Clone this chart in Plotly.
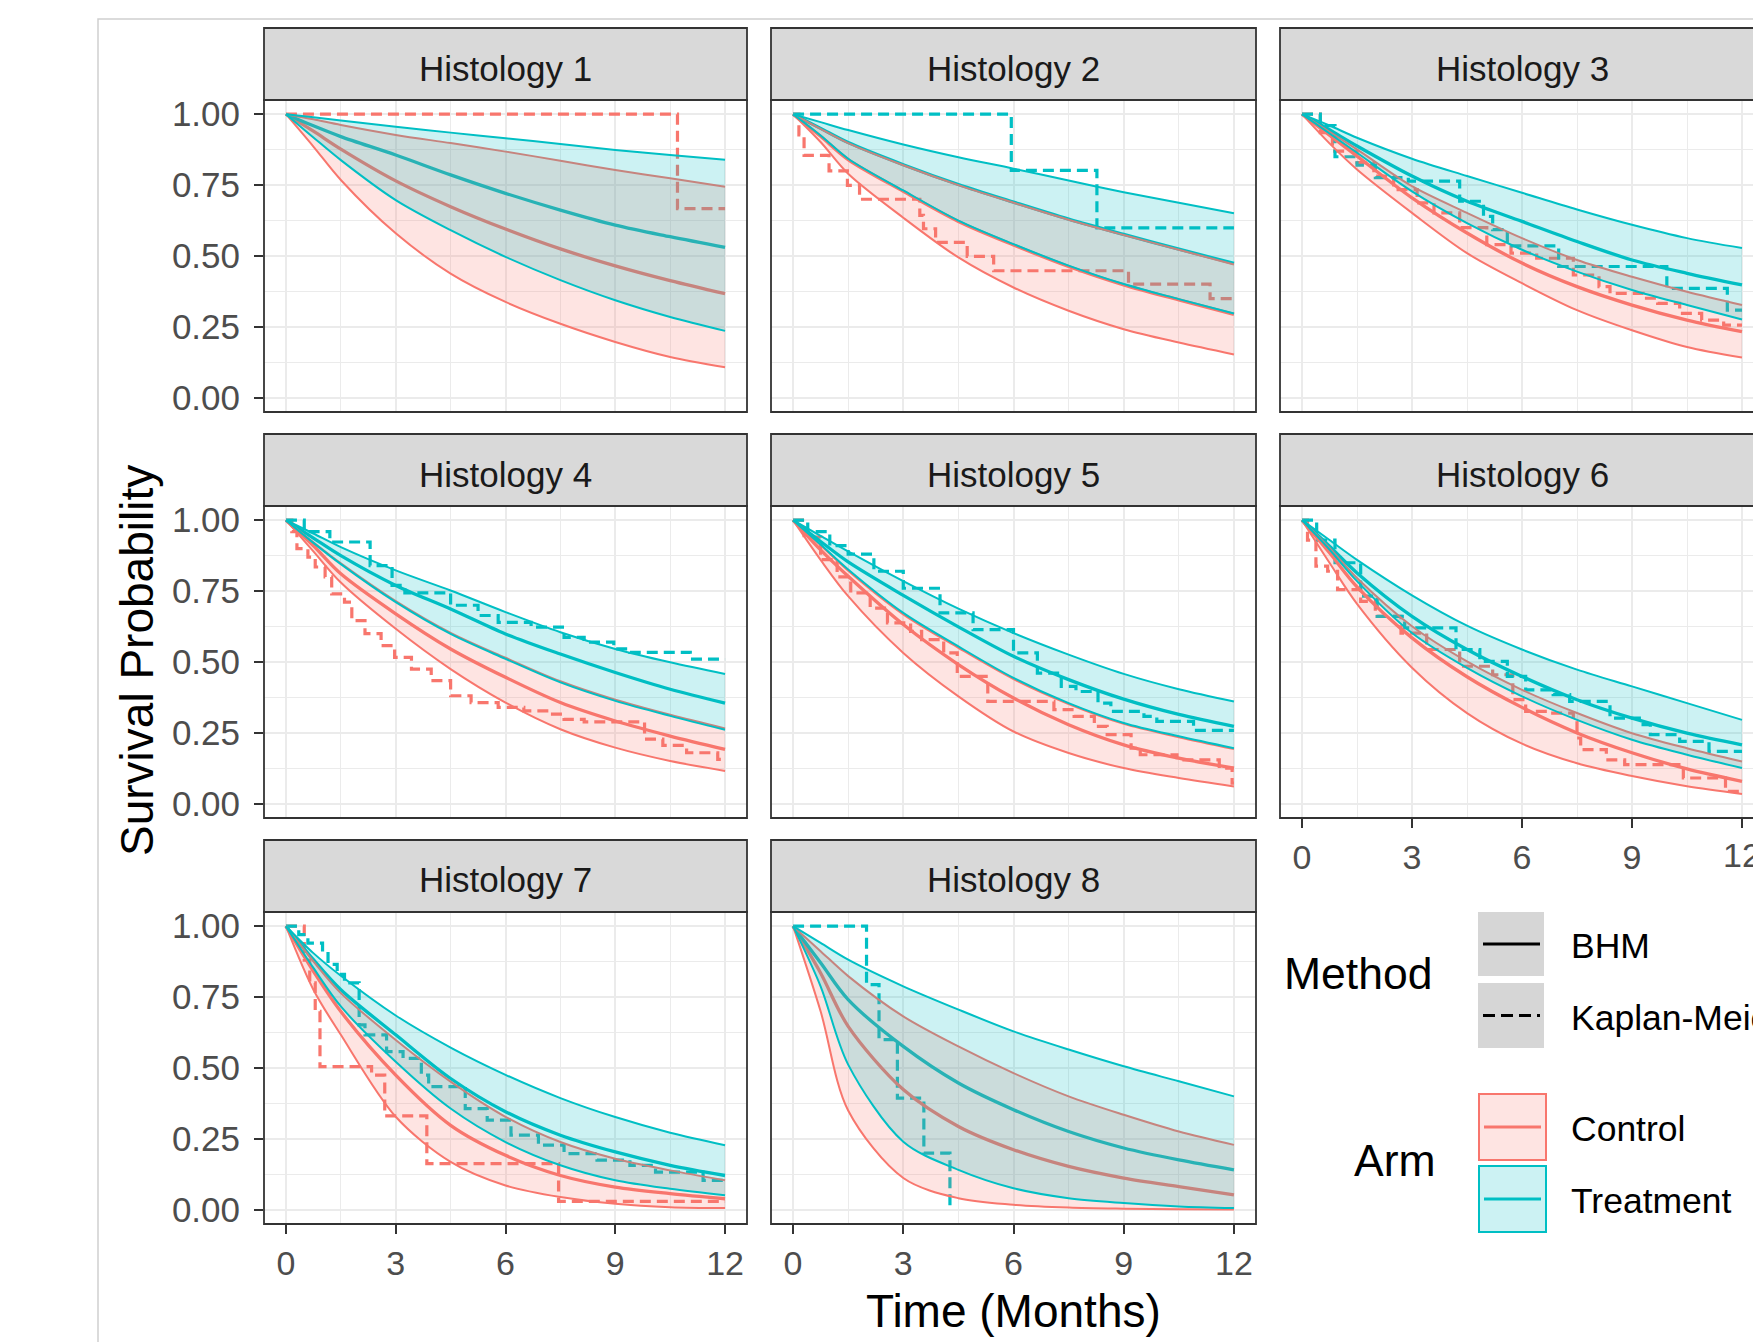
import plotly.graph_objects as go

W, H = 1753, 1342
FONT = "Liberation Sans, Arial, sans-serif"

# ---------------- data ----------------
PANELS = ["Histology 1", "Histology 2", "Histology 3", "Histology 4",
          "Histology 5", "Histology 6", "Histology 7", "Histology 8"]

T = [0, 0.75, 1.5, 3, 4.5, 6, 7.5, 9, 10.5, 12]

CTRL_LO = [
    [1, 0.886, 0.768, 0.580, 0.438, 0.338, 0.261, 0.197, 0.144, 0.108],
    [1, 0.902, 0.790, 0.635, 0.495, 0.389, 0.307, 0.242, 0.195, 0.153],
    [1, 0.897, 0.805, 0.652, 0.510, 0.404, 0.309, 0.238, 0.179, 0.142],
    [1, 0.890, 0.780, 0.617, 0.475, 0.357, 0.263, 0.198, 0.151, 0.116],
    [1, 0.860, 0.732, 0.532, 0.379, 0.255, 0.179, 0.126, 0.091, 0.061],
    [1, 0.850, 0.705, 0.480, 0.320, 0.212, 0.143, 0.098, 0.062, 0.035],
    [1, 0.776, 0.617, 0.328, 0.169, 0.086, 0.045, 0.021, 0.009, 0.006],
    [1, 0.700, 0.350, 0.112, 0.041, 0.018, 0.008, 0.004, 0.002, 0.001],
]
CTRL_MED = [
    [1, 0.940, 0.877, 0.765, 0.674, 0.595, 0.525, 0.465, 0.413, 0.367],
    [1, 0.922, 0.840, 0.728, 0.622, 0.539, 0.463, 0.398, 0.345, 0.294],
    [1, 0.926, 0.852, 0.705, 0.581, 0.475, 0.392, 0.327, 0.274, 0.233],
    [1, 0.910, 0.811, 0.670, 0.546, 0.446, 0.357, 0.292, 0.239, 0.192],
    [1, 0.895, 0.802, 0.632, 0.491, 0.373, 0.279, 0.208, 0.161, 0.126],
    [1, 0.885, 0.765, 0.585, 0.448, 0.340, 0.250, 0.180, 0.123, 0.079],
    [1, 0.841, 0.699, 0.475, 0.298, 0.192, 0.121, 0.080, 0.057, 0.039],
    [1, 0.835, 0.647, 0.424, 0.294, 0.212, 0.153, 0.112, 0.082, 0.053],
]
CTRL_HI = [
    [1, 0.982, 0.962, 0.927, 0.898, 0.868, 0.836, 0.803, 0.774, 0.744],
    [1, 0.948, 0.898, 0.820, 0.750, 0.688, 0.628, 0.574, 0.522, 0.470],
    [1, 0.938, 0.876, 0.746, 0.652, 0.563, 0.486, 0.427, 0.374, 0.327],
    [1, 0.922, 0.848, 0.715, 0.603, 0.515, 0.432, 0.367, 0.314, 0.266],
    [1, 0.912, 0.822, 0.668, 0.550, 0.440, 0.352, 0.282, 0.235, 0.193],
    [1, 0.902, 0.796, 0.626, 0.502, 0.402, 0.320, 0.249, 0.196, 0.149],
    [1, 0.876, 0.764, 0.599, 0.452, 0.328, 0.239, 0.180, 0.139, 0.104],
    [1, 0.912, 0.824, 0.682, 0.576, 0.482, 0.400, 0.335, 0.276, 0.229],
]
TRT_LO = [
    [1, 0.918, 0.838, 0.697, 0.591, 0.497, 0.415, 0.344, 0.285, 0.236],
    [1, 0.925, 0.843, 0.731, 0.625, 0.542, 0.466, 0.401, 0.348, 0.297],
    [1, 0.932, 0.864, 0.728, 0.616, 0.522, 0.445, 0.380, 0.327, 0.276],
    [1, 0.920, 0.845, 0.711, 0.599, 0.511, 0.428, 0.363, 0.310, 0.261],
    [1, 0.914, 0.826, 0.673, 0.555, 0.444, 0.355, 0.285, 0.238, 0.196],
    [1, 0.896, 0.785, 0.602, 0.479, 0.379, 0.296, 0.226, 0.173, 0.126],
    [1, 0.853, 0.717, 0.522, 0.357, 0.239, 0.157, 0.104, 0.074, 0.051],
    [1, 0.788, 0.512, 0.240, 0.141, 0.076, 0.041, 0.024, 0.012, 0.006],
]
TRT_MED = [
    [1, 0.959, 0.921, 0.856, 0.786, 0.721, 0.662, 0.609, 0.568, 0.530],
    [1, 0.950, 0.900, 0.822, 0.752, 0.690, 0.630, 0.576, 0.524, 0.474],
    [1, 0.945, 0.888, 0.782, 0.693, 0.622, 0.551, 0.486, 0.439, 0.398],
    [1, 0.937, 0.875, 0.770, 0.687, 0.599, 0.528, 0.463, 0.404, 0.355],
    [1, 0.925, 0.853, 0.735, 0.624, 0.520, 0.438, 0.369, 0.315, 0.273],
    [1, 0.908, 0.814, 0.661, 0.544, 0.449, 0.367, 0.302, 0.249, 0.208],
    [1, 0.882, 0.776, 0.617, 0.463, 0.346, 0.263, 0.204, 0.157, 0.121],
    [1, 0.871, 0.741, 0.576, 0.447, 0.353, 0.276, 0.218, 0.176, 0.141],
]
TRT_HI = [
    [1, 0.989, 0.978, 0.956, 0.935, 0.915, 0.895, 0.874, 0.856, 0.839],
    [1, 0.972, 0.944, 0.893, 0.848, 0.808, 0.766, 0.725, 0.688, 0.651],
    [1, 0.960, 0.917, 0.843, 0.782, 0.723, 0.664, 0.610, 0.563, 0.528],
    [1, 0.953, 0.905, 0.823, 0.752, 0.676, 0.605, 0.546, 0.499, 0.458],
    [1, 0.945, 0.890, 0.785, 0.688, 0.602, 0.526, 0.458, 0.404, 0.361],
    [1, 0.930, 0.860, 0.735, 0.628, 0.544, 0.473, 0.414, 0.355, 0.296],
    [1, 0.905, 0.825, 0.685, 0.572, 0.476, 0.394, 0.327, 0.272, 0.228],
    [1, 0.941, 0.882, 0.788, 0.706, 0.629, 0.565, 0.506, 0.453, 0.400],
]

# Kaplan-Meier step curves (event times and survival after each step)
KM_CTRL_T = [
    [0, 10.7],
    [0, 0.16, 0.3, 0.98, 1.48, 1.81, 3.45, 3.55, 3.88, 4.74, 5.46, 9.13, 11.35],
    [0, 0.5, 0.83, 1.5, 1.96, 2.5, 3.14, 3.6, 4.3, 5.04, 5.7, 6.4, 7.4, 8.1, 8.4, 9.3, 9.7, 10.3, 10.9, 11.5],
    [0, 0.16, 0.3, 0.6, 0.8, 1.07, 1.25, 1.6, 1.8, 2.16, 2.6, 2.97, 3.43, 3.97, 4.5, 5.06, 5.8, 6.5, 7.2, 7.6, 8.15, 9.8, 10.3, 10.95, 11.8],
    [0, 0.3, 0.75, 1.2, 1.57, 2.1, 2.57, 3.2, 3.5, 4.1, 4.47, 5.3, 7.1, 7.65, 8.2, 8.55, 9.2, 9.45, 10.45, 11.6, 11.95],
    [0, 0.15, 0.38, 0.7, 0.97, 1.6, 2.0, 2.7, 3.4, 4.3, 5.2, 5.75, 6.1, 6.7, 7.4, 7.5, 7.6, 8.3, 8.8, 10.4, 11.55],
    [0, 0.5, 0.65, 0.8, 0.93, 2.34, 2.7, 3.85, 7.45],
    [],
]
KM_CTRL_S = [
    [1, 0.667],
    [1, 0.927, 0.855, 0.80, 0.749, 0.70, 0.643, 0.596, 0.548, 0.499, 0.448, 0.401, 0.35],
    [1, 0.935, 0.87, 0.829, 0.782, 0.734, 0.687, 0.652, 0.6, 0.54, 0.51, 0.492, 0.433, 0.392, 0.368, 0.351, 0.333, 0.298, 0.274, 0.256],
    [1, 0.96, 0.90, 0.87, 0.835, 0.80, 0.74, 0.711, 0.646, 0.60, 0.558, 0.516, 0.475, 0.434, 0.381, 0.357, 0.34, 0.328, 0.316, 0.298, 0.289, 0.228, 0.206, 0.18, 0.157],
    [1, 0.94, 0.861, 0.80, 0.744, 0.69, 0.638, 0.608, 0.579, 0.532, 0.449, 0.361, 0.332, 0.308, 0.273, 0.244, 0.196, 0.173, 0.155, 0.126, 0.073],
    [1, 0.93, 0.838, 0.82, 0.755, 0.714, 0.661, 0.602, 0.544, 0.485, 0.455, 0.367, 0.326, 0.32, 0.291, 0.232, 0.191, 0.155, 0.138, 0.091, 0.044],
    [1, 0.88, 0.80, 0.70, 0.505, 0.475, 0.331, 0.163, 0.03],
    [],
]
KM_CTRL_END = [12, 12, 12, 12, 12, 12, 12, 12]

KM_TRT_T = [
    [],
    [0, 5.94, 8.27],
    [0, 0.5, 0.9, 1.5, 2.0, 2.9, 4.3, 4.95, 5.2, 5.6, 7.0, 9.95, 11.6],
    [0, 0.5, 1.2, 2.3, 2.9, 3.25, 4.5, 5.25, 5.8, 6.7, 7.6, 8.15, 8.96, 9.4, 11.05],
    [0, 0.4, 1.0, 1.5, 2.2, 3.0, 4.0, 4.9, 6.0, 6.65, 7.3, 7.7, 8.3, 8.65, 9.55, 9.9, 10.9],
    [0, 0.4, 0.9, 1.6, 2.05, 2.8, 4.2, 4.85, 5.6, 6.1, 6.85, 7.3, 8.4, 9.2, 9.5, 10.3, 11.1],
    [0, 0.35, 0.6, 1.0, 1.15, 1.4, 1.6, 2.0, 2.16, 2.75, 3.2, 3.7, 3.9, 4.9, 5.5, 6.15, 6.9, 7.6, 8.5, 9.4, 10.1, 11.4],
    [0, 2.0, 2.34, 2.84, 3.56, 4.27],
]
KM_TRT_S = [
    [],
    [1, 0.802, 0.599],
    [1, 0.96, 0.85, 0.82, 0.776, 0.764, 0.693, 0.64, 0.593, 0.536, 0.463, 0.386, 0.309],
    [1, 0.96, 0.923, 0.84, 0.77, 0.744, 0.70, 0.664, 0.64, 0.623, 0.587, 0.57, 0.546, 0.534, 0.51],
    [1, 0.96, 0.91, 0.88, 0.82, 0.76, 0.673, 0.614, 0.532, 0.461, 0.414, 0.396, 0.355, 0.326, 0.308, 0.291, 0.259],
    [1, 0.93, 0.85, 0.732, 0.661, 0.62, 0.544, 0.502, 0.449, 0.402, 0.385, 0.361, 0.302, 0.279, 0.244, 0.22, 0.185],
    [1, 0.97, 0.94, 0.91, 0.865, 0.83, 0.80, 0.652, 0.617, 0.558, 0.534, 0.475, 0.434, 0.357, 0.316, 0.263, 0.228, 0.198, 0.175, 0.157, 0.133, 0.104],
    [1, 0.794, 0.60, 0.394, 0.20, 0.0],
]
KM_TRT_END = [12, 12, 12, 12, 12, 12, 12, 4.27]

X_TICKS = [0, 3, 6, 9, 12]
X_TICKTEXT = ["0", "3", "6", "9", "12"]
X_MINOR = [1.5, 4.5, 7.5, 10.5]
Y_TICKS = [0, 0.25, 0.5, 0.75, 1.0]
Y_TICKTEXT = ["0.00", "0.25", "0.50", "0.75", "1.00"]
Y_MINOR = [0.125, 0.375, 0.625, 0.875]

ARMS = ["Control", "Treatment"]
METHODS = ["BHM", "Kaplan-Meier"]

# ---------------- style / layout ----------------
RED = "#F8766D"
CYAN = "#00BFC4"
RED_FILL = "rgba(248,118,109,0.2)"
CYAN_FILL = "rgba(0,191,196,0.2)"
BORDER = "#333333"
GRID = "#EBEBEB"
TICK_COLOR = "#4D4D4D"

COL_PX = [(264, 747), (771, 1256), (1280, 1764)]
ROW_PX = [(100, 412), (506, 818), (912, 1224)]
STRIP_H = 72
X_RANGE = (-0.6, 12.6)
Y_RANGE = (-0.05, 1.05)
X_LABEL_GAP = 37   # px from panel bottom to x tick label centre


def fx(p):
    return p / W


def fy(p):
    return 1 - p / H


fig = go.Figure()
layout = dict(
    width=W, height=H, autosize=False, margin=dict(l=0, r=0, t=0, b=0, pad=0),
    paper_bgcolor="white", plot_bgcolor="white", showlegend=False,
    font=dict(family=FONT, color="black"),
)
shapes = []
annotations = []

for i, name in enumerate(PANELS):
    r, c = divmod(i, 3)
    sid = "" if i == 0 else str(i + 1)
    xref, yref = "x" + sid, "y" + sid
    c0, c1 = COL_PX[c]
    r0, r1 = ROW_PX[r]
    c1v = min(c1, W)
    px_per_unit = (c1 - c0) / (X_RANGE[1] - X_RANGE[0])
    xr_hi = X_RANGE[0] + (c1v - c0) / px_per_unit
    show_x = i in (5, 6, 7)
    show_y = c == 0
    clipped = c1 > W
    # tick labels that would fall past the page edge are written as annotations
    xt_text = [t if (not clipped or v <= xr_hi - 0.6) else "" for v, t in zip(X_TICKS, X_TICKTEXT)]

    layout["xaxis" + sid] = dict(
        domain=[fx(c0), fx(c1v)], range=[X_RANGE[0], xr_hi], anchor=yref,
        tickmode="array", tickvals=X_TICKS, ticktext=xt_text,
        showticklabels=show_x, ticks="outside" if show_x else "",
        ticklen=9, tickwidth=2, tickcolor=BORDER, ticklabelstandoff=0,
        automargin=False,
        tickfont=dict(size=34, color=TICK_COLOR, family=FONT),
        showgrid=True, gridcolor=GRID, gridwidth=2, zeroline=False, showline=False,
        minor=dict(tickvals=X_MINOR, showgrid=True, gridcolor=GRID, gridwidth=1.1, ticks=""),
        fixedrange=True,
    )
    layout["yaxis" + sid] = dict(
        domain=[fy(r1), fy(r0)], range=list(Y_RANGE), anchor=xref,
        tickmode="array", tickvals=Y_TICKS, ticktext=Y_TICKTEXT,
        showticklabels=show_y, ticks="outside" if show_y else "",
        ticklen=9, tickwidth=2, tickcolor=BORDER, ticklabelstandoff=7,
        automargin=False,
        tickfont=dict(size=35, color=TICK_COLOR, family=FONT),
        showgrid=True, gridcolor=GRID, gridwidth=2, zeroline=False, showline=False,
        minor=dict(tickvals=Y_MINOR, showgrid=True, gridcolor=GRID, gridwidth=1.1, ticks=""),
        fixedrange=True,
    )
    if show_x and clipped:
        for v, t, shown in zip(X_TICKS, X_TICKTEXT, xt_text):
            if shown == "":
                annotations.append(dict(text=t, xref=xref, yref="paper", x=v,
                                        y=fy(r1 + X_LABEL_GAP), xanchor="center",
                                        yanchor="middle", showarrow=False,
                                        font=dict(size=34, color=TICK_COLOR, family=FONT)))

    # Kaplan-Meier steps
    for kt, ks, kend, col in ((KM_CTRL_T[i], KM_CTRL_S[i], KM_CTRL_END[i], RED),
                              (KM_TRT_T[i], KM_TRT_S[i], KM_TRT_END[i], CYAN)):
        if not kt:
            continue
        xs = list(kt) + [kend]
        ys = list(ks) + [ks[-1]]
        fig.add_trace(go.Scatter(x=xs, y=ys, mode="lines", xaxis=xref, yaxis=yref,
                                 line=dict(color=col, width=3.2, shape="hv", dash="11px,6px"),
                                 hoverinfo="skip"))
    # BHM medians
    for med, col in ((CTRL_MED[i], RED), (TRT_MED[i], CYAN)):
        fig.add_trace(go.Scatter(x=T, y=med, mode="lines", xaxis=xref, yaxis=yref,
                                 line=dict(color=col, width=3.3, shape="spline", smoothing=0.9),
                                 hoverinfo="skip"))
    # BHM credible ribbons (control first, then treatment on top)
    for lo, hi, col, fill in ((CTRL_LO[i], CTRL_HI[i], RED, RED_FILL),
                              (TRT_LO[i], TRT_HI[i], CYAN, CYAN_FILL)):
        fig.add_trace(go.Scatter(x=T, y=lo, mode="lines", xaxis=xref, yaxis=yref,
                                 line=dict(color=col, width=2, shape="spline", smoothing=0.9),
                                 hoverinfo="skip"))
        fig.add_trace(go.Scatter(x=T, y=hi, mode="lines", xaxis=xref, yaxis=yref,
                                 fill="tonexty", fillcolor=fill,
                                 line=dict(color=col, width=2, shape="spline", smoothing=0.9),
                                 hoverinfo="skip"))

    # panel border
    shapes.append(dict(type="rect", xref="paper", yref="paper",
                       x0=fx(c0), x1=fx(c1), y0=fy(r1), y1=fy(r0),
                       line=dict(color=BORDER, width=1.8), fillcolor="rgba(0,0,0,0)",
                       layer="above"))
    # strip
    shapes.append(dict(type="rect", xref="paper", yref="paper",
                       x0=fx(c0), x1=fx(c1), y0=fy(r0), y1=fy(r0 - STRIP_H),
                       line=dict(color=BORDER, width=1.8), fillcolor="#D9D9D9",
                       layer="above"))
    annotations.append(dict(text=name, xref="paper", yref="paper",
                            x=fx((c0 + c1) / 2), y=fy(r0 - STRIP_H / 2 + 4),
                            xanchor="center", yanchor="middle", showarrow=False,
                            font=dict(size=35, color="#1A1A1A", family=FONT)))

# outer light border (image is a crop of a larger canvas)
shapes.append(dict(type="rect", xref="paper", yref="paper",
                   x0=fx(98), x1=1.2, y0=-0.2, y1=fy(19),
                   line=dict(color="#CFCFCF", width=1.5), fillcolor="rgba(0,0,0,0)",
                   layer="below"))

# axis titles
annotations.append(dict(text="Survival Probability", xref="paper", yref="paper",
                        x=fx(137), y=fy(661), textangle=-90, showarrow=False,
                        xanchor="center", yanchor="middle",
                        font=dict(size=46, color="black", family=FONT)))
annotations.append(dict(text="Time (Months)", xref="paper", yref="paper",
                        x=fx(1013), y=fy(1311), showarrow=False,
                        xanchor="center", yanchor="middle",
                        font=dict(size=46, color="black", family=FONT)))

# ---------------- legend (drawn manually) ----------------
annotations.append(dict(text="Method", xref="paper", yref="paper",
                        x=fx(1434), y=fy(973), xanchor="right", yanchor="middle",
                        showarrow=False, font=dict(size=44.5, color="black", family=FONT)))
annotations.append(dict(text="Arm", xref="paper", yref="paper",
                        x=fx(1438), y=fy(1160), xanchor="right", yanchor="middle",
                        showarrow=False, font=dict(size=44.5, color="black", family=FONT)))

method_boxes = [(912, 976), (983, 1048)]
method_dash = ["solid", "12px,6px"]
for (b0, b1), lab, dsh in zip(method_boxes, METHODS, method_dash):
    shapes.append(dict(type="rect", xref="paper", yref="paper",
                       x0=fx(1478), x1=fx(1544), y0=fy(b1), y1=fy(b0),
                       line=dict(width=0), fillcolor="#D6D6D6", layer="above"))
    ym = (b0 + b1) / 2
    shapes.append(dict(type="line", xref="paper", yref="paper",
                       x0=fx(1483), x1=fx(1540), y0=fy(ym), y1=fy(ym),
                       line=dict(color="black", width=3, dash=dsh), layer="above"))
    annotations.append(dict(text=lab, xref="paper", yref="paper",
                            x=fx(1569), y=fy(ym + 2), xanchor="left", yanchor="middle",
                            showarrow=False, font=dict(size=35.5, color="black", family=FONT)))

arm_boxes = [(1094, 1160), (1166, 1232)]
for (b0, b1), lab, col, fill in zip(arm_boxes, ARMS, (RED, CYAN), (RED_FILL, CYAN_FILL)):
    shapes.append(dict(type="rect", xref="paper", yref="paper",
                       x0=fx(1479), x1=fx(1546), y0=fy(b1), y1=fy(b0),
                       line=dict(color=col, width=2), fillcolor=fill, layer="above"))
    ym = (b0 + b1) / 2
    shapes.append(dict(type="line", xref="paper", yref="paper",
                       x0=fx(1484), x1=fx(1541), y0=fy(ym), y1=fy(ym),
                       line=dict(color=col, width=3.2), layer="above"))
    annotations.append(dict(text=lab, xref="paper", yref="paper",
                            x=fx(1569), y=fy(ym + 2), xanchor="left", yanchor="middle",
                            showarrow=False, font=dict(size=35.5, color="black", family=FONT)))

layout["shapes"] = shapes
layout["annotations"] = annotations
fig.update_layout(**layout)

fig.write_html("out.html", config={"displayModeBar": False},
               post_script="document.body.style.margin='0';document.body.style.overflow='hidden';")
